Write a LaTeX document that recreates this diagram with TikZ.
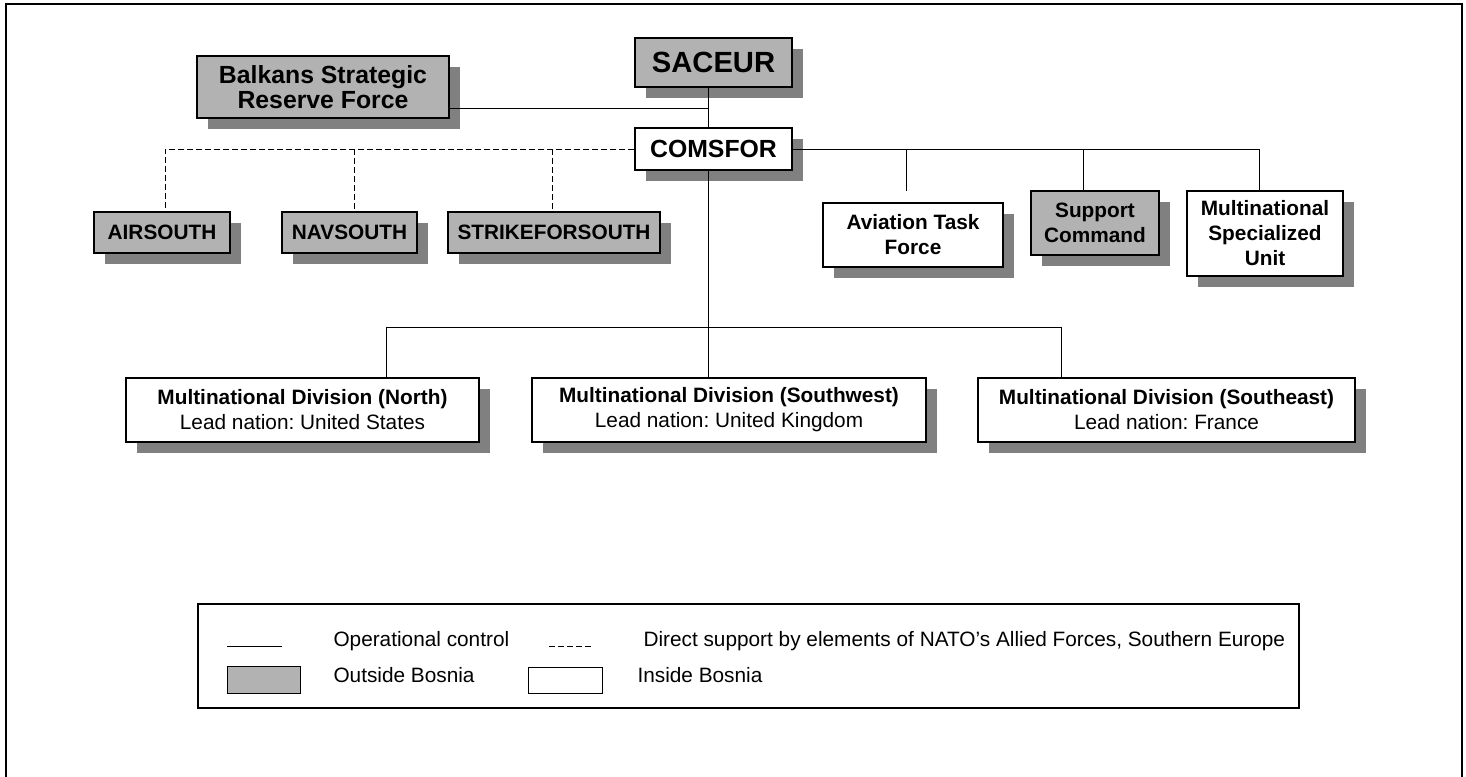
\documentclass[tikz,border=0pt]{standalone}
\usepackage{fontspec}
\setmainfont{Liberation Sans}
\usetikzlibrary{positioning, shadows}
\definecolor{boxgray}{gray}{0.7}
\definecolor{shadegray}{gray}{0.5}
\frenchspacing

\begin{document}
\begin{tikzpicture}[
  x=0.5pt, y=-0.5pt,
  line width=0.5pt,
  unit/.style={
    draw,
    line width=0.6pt,
    inner sep=0pt,
    align=center,
    font=\bfseries\fontsize{10.4}{12.5}\selectfont,
    drop shadow={shadow xshift=5.5pt, shadow yshift=-5.5pt, fill=shadegray, opacity=1}
  },
  outside/.style={unit, fill=boxgray},
  inside/.style={unit, fill=white},
  direct/.style={dash pattern=on 3pt off 1.5pt},
  keytext/.style={anchor=base west, inner sep=0pt, font=\fontsize{10.4}{12}\selectfont},
]

\useasboundingbox (0,0) rectangle (1466,776);
\draw[line width=0.6pt] (6,4) rectangle (1462,790);

% command chain
\node[outside, minimum width=78.5pt, minimum height=24.5pt,
  font=\bfseries\fontsize{14.6}{16}\selectfont] (saceur) at (713.5,62.5) {SACEUR};
\node[outside, minimum width=126pt, minimum height=31pt,
  font=\bfseries\fontsize{12.4}{12.5}\selectfont] (balkans) at (323,87) {Balkans Strategic\\Reserve Force};
\node[inside, minimum width=78.5pt, minimum height=21pt,
  font=\bfseries\fontsize{12.4}{14}\selectfont] (comsfor) at (713.5,149) {COMSFOR};

% southern europe elements
\node[outside, minimum width=68pt, minimum height=20.5pt] (airsouth) at (162,232.5) {AIRSOUTH};
\node[outside, minimum width=67.5pt, minimum height=20.5pt] (navsouth) at (349.5,232.5) {NAVSOUTH};
\node[outside, minimum width=106pt, minimum height=20.5pt] (strikefor) at (554,232.5) {STRIKEFORSOUTH};

% units under comsfor
\node[inside, minimum width=90pt, minimum height=32pt] (aviation) at (913,235) {Aviation Task\\Force};
\node[outside, minimum width=64pt, minimum height=32pt] (support) at (1095,223) {Support\\Command};
\node[inside, minimum width=78pt, minimum height=42.5pt] (msu) at (1265,233.5) {Multinational\\Specialized\\Unit};

% divisions
\node[inside, minimum width=176.5pt, minimum height=32pt] (north) at (302.5,410)
  {Multinational Division (North)\\\mdseries Lead nation: United States};
\node[inside, minimum width=197pt, minimum height=32pt] (southwest) at (729,410)
  {Multinational Division (Southwest)\\\mdseries Lead nation: United Kingdom};
\node[inside, minimum width=188.5pt, minimum height=32pt] (southeast) at (1166.5,410)
  {Multinational Division (Southeast)\\\mdseries Lead nation: France};

% joints
\coordinate (jtop) at (708,108);
\coordinate (dair) at (165,149);
\coordinate (dnav) at (354,149);
\coordinate (dstrike) at (552,149);
\coordinate (javn) at (906,149);
\coordinate (avnend) at (906,191);
\coordinate (jsup) at (1083,149);
\coordinate (jmsu) at (1259,149);
\coordinate (jdiv) at (708,327);
\coordinate (jnorth) at (386,327);
\coordinate (jse) at (1061,327);

\draw (saceur.south -| jtop) -- (comsfor.north -| jtop);
\draw (balkans.east |- jtop) -- (jtop);

\draw[direct] (comsfor.west) -- (dair) -- (dair |- airsouth.north);
\draw[direct] (dnav) -- (dnav |- navsouth.north);
\draw[direct] (dstrike) -- (dstrike |- strikefor.north);

\draw (comsfor.east) -- (jmsu) -- (jmsu |- msu.north);
\draw (javn) -- (avnend);
\draw (jsup) -- (jsup |- support.north);

\draw (comsfor.south -| jdiv) -- (jdiv);
\draw (jnorth) -- (jse);
\draw (jnorth) -- (jnorth |- north.north);
\draw (jdiv) -- (jdiv |- southwest.north);
\draw (jse) -- (jse |- southeast.north);

% key
\node[draw, line width=0.6pt, inner sep=0pt, minimum width=550.5pt, minimum height=52pt] (key) at (748.5,656) {};
\coordinate (keyopa) at (227,646);
\coordinate (keyopb) at (282,646);
\coordinate (keydsa) at (549,646);
\coordinate (keydsb) at (591,646);
\draw (keyopa) -- (keyopb);
\draw[direct] (keydsa) -- (keydsb);
\node[keytext] (keyop) at (333,646) {Operational control};
\node[keytext] (keyds) at (643,646) {Direct support by elements of NATO’s Allied Forces, Southern Europe};
\node[draw, fill=boxgray, inner sep=0pt, minimum width=36.5pt, minimum height=13.5pt] (keyoutbox) at (263.5,679.5) {};
\node[keytext] (keyout) at (333,682) {Outside Bosnia};
\node[draw, fill=white, inner sep=0pt, minimum width=37pt, minimum height=13pt] (keyinbox) at (565,680) {};
\node[keytext] (keyin) at (637,682) {Inside Bosnia};

\end{tikzpicture}
\end{document}
